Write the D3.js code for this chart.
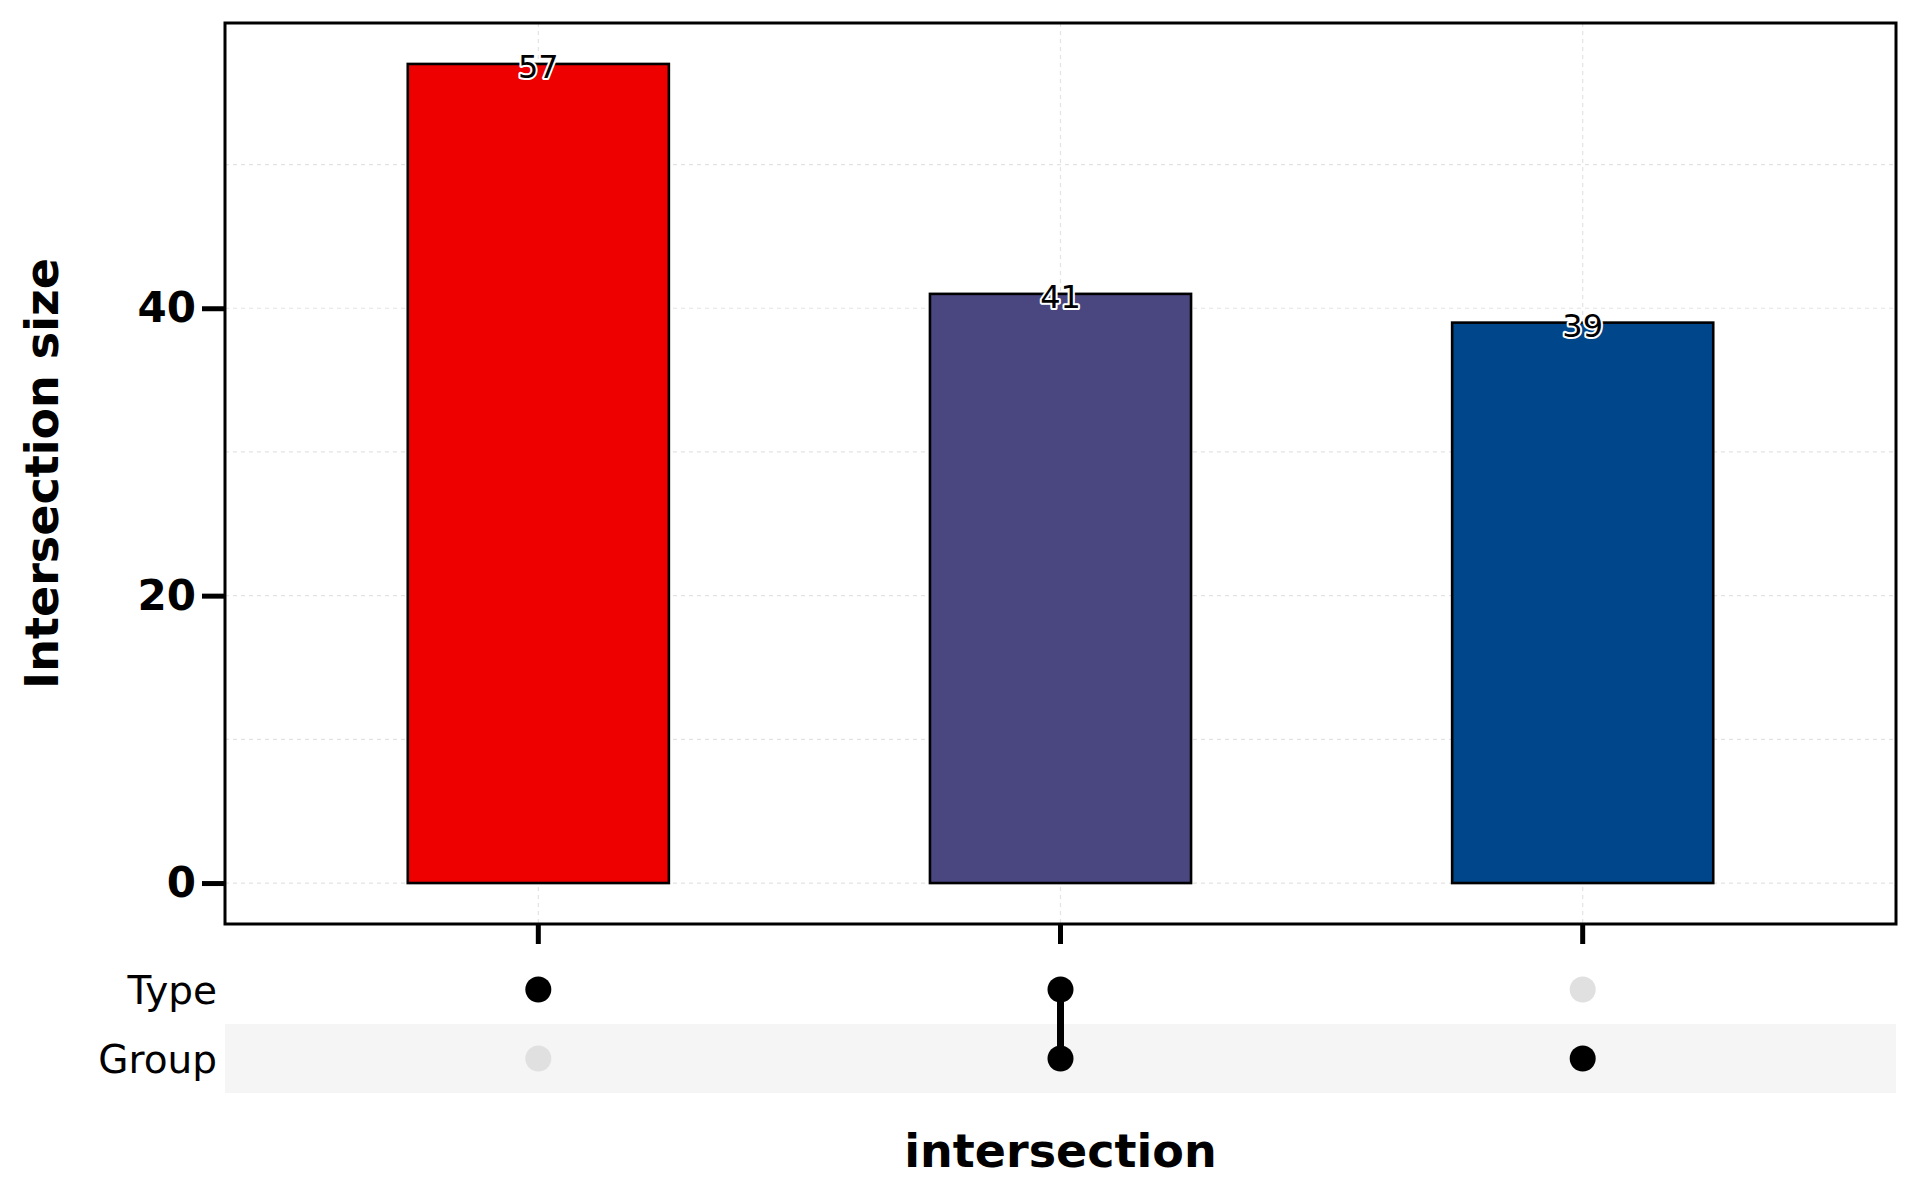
<!DOCTYPE html>
<html>
<head>
<meta charset="utf-8">
<script src="https://cdn.jsdelivr.net/npm/d3@7"></script>
<style>
  html, body { margin: 0; padding: 0; background: #fff; }
  svg { display: block; font-family: "DejaVu Sans", sans-serif; }
</style>
</head>
<body>
<svg id="chart" width="1920" height="1200"></svg>
<script>
// ---- data ----
const intersections = ["Type", "Type-Group", "Group"];
const sizes = [57, 41, 39];
const barColors = ["#EE0000", "#4A4780", "#00468B"];
const sets = ["Type", "Group"];
// membership[i][j]: intersection i includes set j
const membership = [[1, 0], [1, 1], [0, 1]];
const yTicks = [0, 20, 40];
const yMinor = [10, 30, 50];

// ---- layout ----
const panel = { left: 225, right: 1896, top: 23, bottom: 924 };
const matrix = { top: 955, bottom: 1093 };

const svg = d3.select("#chart");

const x = d3.scaleBand()
  .domain(intersections)
  .range([panel.left, panel.right])
  .paddingInner(0.5)
  .paddingOuter(0.35);

const yMax = d3.max(sizes);
const y = d3.scaleLinear()
  .domain([-0.05 * yMax, yMax * 1.05])
  .range([panel.bottom, panel.top]);

const rowY = d3.scaleBand()
  .domain(sets)
  .range([matrix.top, matrix.bottom]);

const cx = d => x(d) + x.bandwidth() / 2;

// ---- grid ----
const grid = svg.append("g");
grid.selectAll(".gmaj").data(yTicks.concat(yMinor)).join("line")
  .attr("x1", panel.left).attr("x2", panel.right)
  .attr("y1", d => y(d)).attr("y2", d => y(d))
  .attr("stroke", "#e3e3e3").attr("stroke-width", 1.2)
  .attr("stroke-dasharray", "4,4");
grid.selectAll(".gx").data(intersections).join("line")
  .attr("x1", d => cx(d)).attr("x2", d => cx(d))
  .attr("y1", panel.top).attr("y2", panel.bottom)
  .attr("stroke", "#e3e3e3").attr("stroke-width", 1.2)
  .attr("stroke-dasharray", "4,4");

// ---- bars ----
svg.append("g").selectAll("rect").data(intersections).join("rect")
  .attr("x", d => x(d))
  .attr("width", x.bandwidth())
  .attr("y", (d, i) => y(sizes[i]))
  .attr("height", (d, i) => y(0) - y(sizes[i]))
  .attr("fill", (d, i) => barColors[i])
  .attr("stroke", "#000").attr("stroke-width", 2.6);

// ---- bar labels ----
svg.append("g").selectAll("text").data(intersections).join("text")
  .attr("x", d => cx(d))
  .attr("y", (d, i) => y(sizes[i]) + 14)
  .attr("text-anchor", "middle")
  .attr("font-size", 32)
  .attr("fill", "#000")
  .attr("stroke", "#fff").attr("stroke-width", 4)
  .attr("stroke-linejoin", "round")
  .attr("paint-order", "stroke")
  .text((d, i) => sizes[i]);

// ---- panel border ----
svg.append("rect")
  .attr("x", panel.left).attr("y", panel.top)
  .attr("width", panel.right - panel.left)
  .attr("height", panel.bottom - panel.top)
  .attr("fill", "none").attr("stroke", "#000").attr("stroke-width", 3);

// ---- y axis ----
const yAxis = d3.axisLeft(y).tickValues(yTicks).tickSize(23).tickPadding(6);
const yg = svg.append("g").attr("transform", `translate(${panel.left},0)`).call(yAxis);
yg.select(".domain").remove();
yg.selectAll(".tick line").attr("stroke", "#000").attr("stroke-width", 5);
yg.selectAll(".tick text")
  .attr("font-family", "DejaVu Sans").attr("font-weight", "bold")
  .attr("font-size", 42).attr("fill", "#000");

// ---- x axis ticks (no labels) ----
const xAxis = d3.axisBottom(x).tickSize(20).tickFormat("");
const xg = svg.append("g").attr("transform", `translate(0,${panel.bottom})`).call(xAxis);
xg.select(".domain").remove();
xg.selectAll(".tick line").attr("stroke", "#000").attr("stroke-width", 5);

// ---- axis titles ----
svg.append("text")
  .attr("transform", `translate(58,${(panel.top + panel.bottom) / 2}) rotate(-90)`)
  .attr("text-anchor", "middle")
  .attr("font-weight", "bold").attr("font-size", 46)
  .text("Intersection size");

svg.append("text")
  .attr("x", (panel.left + panel.right) / 2).attr("y", 1167)
  .attr("text-anchor", "middle")
  .attr("font-weight", "bold").attr("font-size", 46)
  .text("intersection");

// ---- matrix ----
const mg = svg.append("g");
mg.selectAll(".band").data(sets).join("rect")
  .attr("x", panel.left).attr("width", panel.right - panel.left)
  .attr("y", d => rowY(d)).attr("height", rowY.bandwidth())
  .attr("fill", (d, i) => i % 2 === 1 ? "#f5f5f5" : "#ffffff");

mg.selectAll(".rowlab").data(sets).join("text")
  .attr("x", 217).attr("y", d => rowY(d) + rowY.bandwidth() / 2)
  .attr("dy", "0.36em")
  .attr("text-anchor", "end")
  .attr("font-size", 39).attr("fill", "#000")
  .text(d => d);

const rowCenter = s => rowY(s) + rowY.bandwidth() / 2;

// connecting lines
intersections.forEach((inter, i) => {
  const active = sets.filter((s, j) => membership[i][j]);
  if (active.length > 1) {
    const ys = active.map(rowCenter);
    mg.append("line")
      .attr("x1", cx(inter)).attr("x2", cx(inter))
      .attr("y1", d3.min(ys)).attr("y2", d3.max(ys))
      .attr("stroke", "#000").attr("stroke-width", 7);
  }
});

// dots
const dots = [];
intersections.forEach((inter, i) => sets.forEach((s, j) => dots.push({ inter, s, on: membership[i][j] })));
mg.selectAll(".dot").data(dots).join("circle")
  .attr("cx", d => cx(d.inter))
  .attr("cy", d => rowCenter(d.s))
  .attr("r", 13)
  .attr("fill", d => d.on ? "#000" : "#e0e0e0");
</script>
</body>
</html>
